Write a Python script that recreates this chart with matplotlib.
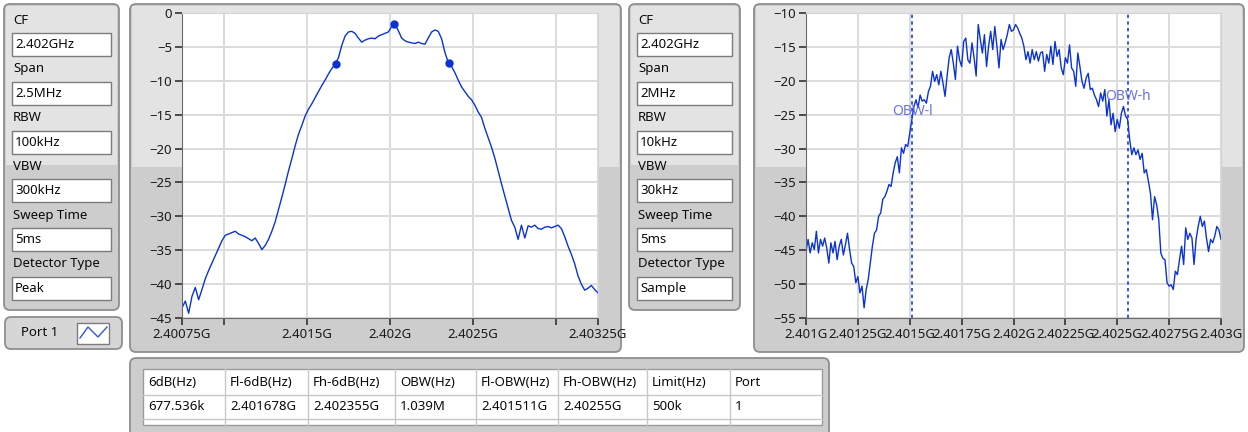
import numpy as np
import matplotlib
matplotlib.use('Agg')
import matplotlib.pyplot as plt
from matplotlib.patches import FancyBboxPatch, Rectangle

plt.rcParams['font.family'] = ['Noto Sans', 'DejaVu Sans']

W, H = 1248, 432

# analyser settings in the two parameter panels
setting_names = ['CF', 'Span', 'RBW', 'VBW', 'Sweep Time', 'Detector Type']
settings_6db = ['2.402GHz', '2.5MHz', '100kHz', '300kHz', '5ms', 'Peak']
settings_obw = ['2.402GHz', '2MHz', '10kHz', '30kHz', '5ms', 'Sample']

# 6 dB bandwidth trace, swept 2.40075 .. 2.40325 GHz (0.02 MHz per point)
sweep_6db = (2.40075, 2.40325)
trace_6db = [
    -43.5, -42.5, -44.3, -41.8, -40.5, -42.3, -40.8, -39.2, -38.0, -36.9,
    -35.8, -34.7, -33.6, -32.8, -32.6, -32.4, -32.2, -32.6, -32.8, -33.0,
    -33.3, -33.6, -33.2, -34.0, -34.9, -34.3, -33.4, -32.2, -30.8, -29.0,
    -27.2, -25.3, -23.3, -21.5, -19.6, -17.9, -16.6, -15.2, -14.2, -13.4,
    -12.5, -11.6, -10.7, -9.9, -9.0, -8.2, -7.6, -6.6, -4.8, -3.4,
    -2.8, -2.7, -3.0, -3.7, -4.3, -4.0, -3.8, -3.7, -3.8, -3.4,
    -3.2, -3.0, -2.8, -2.0, -1.7, -2.6, -3.7, -4.1, -4.3, -4.4,
    -4.5, -4.3, -4.5, -4.6, -3.7, -2.8, -2.5, -2.7, -3.8, -5.8,
    -7.3, -7.9, -8.8, -9.9, -10.9, -11.6, -12.3, -12.8, -13.6, -14.6,
    -15.4, -17.0, -18.4, -19.8, -21.4, -23.3, -25.2, -27.0, -28.8, -30.6,
    -31.6, -33.4, -31.3, -33.2, -31.4, -31.6, -31.3, -31.8, -31.9, -31.6,
    -31.5, -31.7, -31.5, -31.3, -31.8, -33.0, -34.4, -35.6, -37.0, -38.8,
    -40.0, -40.9, -40.6, -40.2, -40.8, -41.3,
]
marker_freq = [2.401678, 2.402024, 2.402355]
marker_db = [-7.5, -1.6, -7.4]
ticks_6db = [2.40075, 2.4015, 2.402, 2.4025, 2.40325]
ticklabels_6db = ['2.40075G', '2.4015G', '2.402G', '2.4025G', '2.40325G']
minor_6db = [2.401, 2.403]

# occupied bandwidth trace, swept 2.401 .. 2.403 GHz (0.01 MHz per point)
sweep_obw = (2.401, 2.403)
trace_obw = [
    -45.2, -43.4, -45.4, -43.9, -44.9, -42.2, -45.4, -43.4, -44.4, -43.2,
    -44.7, -46.9, -43.9, -45.4, -43.7, -46.4, -44.4, -43.4, -45.7, -44.2,
    -42.5, -44.9, -46.9, -47.4, -49.8, -48.9, -51.3, -50.3, -53.5, -50.8,
    -49.3, -46.9, -44.4, -42.5, -42.0, -40.0, -39.5, -37.5, -37.1, -36.3,
    -35.3, -35.6, -33.6, -32.1, -31.2, -33.6, -29.9, -30.7, -29.4, -29.7,
    -27.7, -25.7, -23.8, -22.8, -24.0, -22.1, -23.0, -22.8, -23.3, -21.6,
    -20.8, -18.6, -20.1, -19.1, -20.6, -18.6, -20.3, -22.3, -19.3, -16.6,
    -15.4, -17.4, -19.8, -14.9, -16.9, -17.9, -14.2, -13.7, -16.9, -17.4,
    -14.4, -16.6, -19.3, -11.7, -13.9, -15.9, -13.2, -17.9, -14.9, -12.7,
    -15.4, -12.0, -14.9, -18.1, -13.9, -15.4, -14.4, -13.2, -11.7, -12.7,
    -12.5, -11.7, -12.2, -13.0, -13.7, -14.9, -16.9, -15.7, -17.4, -15.4,
    -16.9, -15.7, -17.1, -15.9, -15.7, -18.6, -16.1, -17.4, -14.9, -17.6,
    -14.2, -16.4, -15.4, -18.1, -19.1, -16.6, -17.4, -14.7, -18.1, -18.6,
    -20.8, -15.9, -17.9, -20.1, -21.1, -19.6, -18.9, -21.3, -21.1, -22.1,
    -22.8, -23.8, -21.8, -23.0, -21.3, -25.2, -22.8, -26.5, -24.8, -27.5,
    -25.7, -27.0, -24.8, -23.8, -25.2, -25.7, -28.7, -30.9, -29.9, -30.9,
    -30.2, -31.6, -30.7, -33.6, -33.1, -34.8, -36.6, -40.5, -37.1, -38.3,
    -40.5, -45.4, -46.2, -46.4, -49.8, -50.3, -50.1, -50.8, -48.1, -48.6,
    -46.4, -44.4, -47.1, -41.7, -43.4, -42.5, -43.2, -47.1, -43.4, -41.5,
    -40.0, -41.5, -40.7, -43.2, -45.2, -43.4, -43.9, -42.9, -41.5, -42.0,
    -43.4,
]
obw_freq = [2.401511, 2.40255]
obw_names = ['OBW-l', 'OBW-h']
obw_label_db = [-24.5, -22.3]
ticks_obw = [2.401, 2.40125, 2.4015, 2.40175, 2.402, 2.40225, 2.4025, 2.40275, 2.403]
ticklabels_obw = ['2.401G', '2.40125G', '2.4015G', '2.40175G', '2.402G',
                  '2.40225G', '2.4025G', '2.40275G', '2.403G']

# result table
table_head = ['6dB(Hz)', 'Fl-6dB(Hz)', 'Fh-6dB(Hz)', 'OBW(Hz)', 'Fl-OBW(Hz)',
              'Fh-OBW(Hz)', 'Limit(Hz)', 'Port']
table_row = ['677.536k', '2.401678G', '2.402355G', '1.039M', '2.401511G',
             '2.40255G', '500k', '1']

trace_col = '#0b33d4'
fs = 9.5
txt_col = '#0a0a0a'

fig = plt.figure(figsize=(W / 100, H / 100), dpi=100)
fig.patch.set_facecolor('white')

bg = fig.add_axes([0, 0, 1, 1])
bg.set_xlim(0, W)
bg.set_ylim(H, 0)
bg.axis('off')


def panel(x0, y0, x1, y1, split=None):
    bg.add_patch(FancyBboxPatch((x0, y0), x1 - x0, y1 - y0,
                                boxstyle='round,pad=0,rounding_size=6',
                                fc='#cdcdcd', ec='#8e8e8e', lw=1.3))
    if split:
        bg.add_patch(Rectangle((x0 + 2, y0 + 2), x1 - x0 - 4, split - y0 - 2,
                               fc='#e3e3e3', ec='none'))


def param_panel(x0, x1, values):
    panel(x0, 4, x1, 310, split=165)
    for k in range(len(setting_names)):
        top = 33 + 48.8 * k
        bg.text(x0 + 9, top - 13, setting_names[k], fontsize=fs, va='center',
                ha='left', color=txt_col)
        bg.add_patch(Rectangle((x0 + 8, top), x1 - x0 - 16, 23, fc='white',
                               ec='#7c7c7c', lw=1.0))
        bg.text(x0 + 11, top + 11.5, values[k], fontsize=fs, va='center',
                ha='left', color=txt_col)


def px_axes(x0, y0, x1, y1):
    return fig.add_axes([x0 / W, 1 - y1 / H, (x1 - x0) / W, (y1 - y0) / H])


def style_plot(ax):
    ax.set_facecolor('white')
    ax.grid(True, which='both', color='#dcdcdc', lw=1.4)
    ax.set_axisbelow(True)
    for s in ['left', 'bottom']:
        ax.spines[s].set_color('#6a6a6a')
    for s in ['top', 'right']:
        ax.spines[s].set_color('#d4d4d4')
    ax.tick_params(which='both', length=5, width=1.2, color='#333333',
                   labelsize=9.5, labelcolor='#1a1a1a', pad=2)


# left settings panel + port button
param_panel(4, 119, settings_6db)
bg.add_patch(FancyBboxPatch((5, 317), 117, 32, boxstyle='round,pad=0,rounding_size=6',
                            fc='#d6d6d6', ec='#8e8e8e', lw=1.3))
bg.text(40, 333, 'Port 1', fontsize=fs, va='center', ha='center', color=txt_col)
bg.add_patch(Rectangle((77, 323), 32, 21, fc='white', ec='#7c7c7c', lw=1.0))
bg.plot([80, 88, 98, 107], [338, 327, 337, 327], color='#3355dd', lw=1.0)

# middle settings panel
param_panel(629, 740, settings_obw)

# graph panels
panel(130, 4, 621, 352, split=167)
panel(754, 4, 1244, 352, split=167)

# table panel
panel(130, 358, 829, 445)
bg.add_patch(Rectangle((143, 369), 679, 56, fc='white', ec='#9a9a9a', lw=1.0))
col_edges = [143, 225, 308, 395, 476, 558, 647, 730, 822]
for c in col_edges[1:-1]:
    bg.plot([c, c], [369, 425], color='#c8c8c8', lw=1.0)
for yy in [395, 419]:
    bg.plot([143, 822], [yy, yy], color='#c8c8c8', lw=1.0)
for k in range(len(table_head)):
    bg.text(col_edges[k] + 5, 382, table_head[k], fontsize=fs, va='center',
            ha='left', color=txt_col)
    bg.text(col_edges[k] + 5, 407, table_row[k], fontsize=fs, va='center',
            ha='left', color=txt_col)

# 6 dB bandwidth graph
ax1 = px_axes(182, 13, 598, 318)
f1 = np.linspace(sweep_6db[0], sweep_6db[1], len(trace_6db))
ax1.plot(f1, trace_6db, color=trace_col, lw=1.0)
ax1.plot(marker_freq, marker_db, 'o', color=trace_col, ms=5)
ax1.set_xlim(sweep_6db)
ax1.set_ylim(-45, 0)
ax1.set_yticks(np.arange(-45, 1, 5))
ax1.set_xticks(ticks_6db, ticklabels_6db)
ax1.set_xticks(minor_6db, minor=True)
style_plot(ax1)

# OBW graph
ax2 = px_axes(806, 13, 1221, 318)
f2 = np.linspace(sweep_obw[0], sweep_obw[1], len(trace_obw))
ax2.plot(f2, trace_obw, color=trace_col, lw=1.0)
for k in range(len(obw_freq)):
    ax2.axvline(obw_freq[k], color='#1a3fd6', lw=1.2, ls=(0, (2, 2)))
    ax2.text(obw_freq[k], obw_label_db[k], obw_names[k], fontsize=10,
             color='#5a63dc', ha='center', va='center', alpha=0.9)
ax2.set_xlim(sweep_obw)
ax2.set_ylim(-55, -10)
ax2.set_yticks(np.arange(-55, -9, 5))
ax2.set_xticks(ticks_obw, ticklabels_obw)
style_plot(ax2)

fig.savefig('out.png', dpi=100)
